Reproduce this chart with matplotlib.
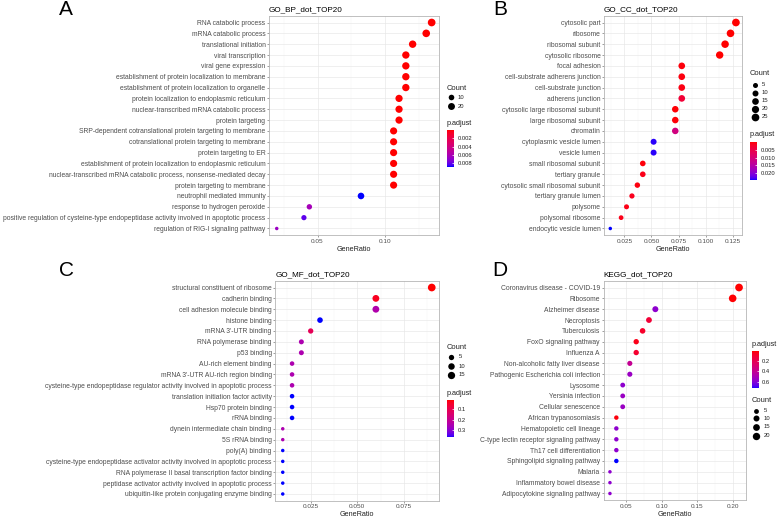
import numpy as np
import matplotlib
matplotlib.use('Agg')
import matplotlib.pyplot as plt
from matplotlib.colors import ListedColormap, Normalize
from matplotlib.cm import ScalarMappable
from matplotlib.ticker import MultipleLocator

plt.rcParams['font.family'] = ['Liberation Sans', 'DejaVu Sans']

W, H = 777, 518

# ---- GO BP ----
bp_terms = ["RNA catabolic process", "mRNA catabolic process", "translational initiation",
            "viral transcription", "viral gene expression",
            "establishment of protein localization to membrane",
            "establishment of protein localization to organelle",
            "protein localization to endoplasmic reticulum",
            "nuclear-transcribed mRNA catabolic process", "protein targeting",
            "SRP-dependent cotranslational protein targeting to membrane",
            "cotranslational protein targeting to membrane", "protein targeting to ER",
            "establishment of protein localization to endoplasmic reticulum",
            "nuclear-transcribed mRNA catabolic process, nonsense-mediated decay",
            "protein targeting to membrane", "neutrophil mediated immunity",
            "response to hydrogen peroxide",
            "positive regulation of cysteine-type endopeptidase activity involved in apoptotic process",
            "regulation of RIG-I signaling pathway"]
bp_ratio = [0.134, 0.130, 0.120, 0.115, 0.115, 0.115, 0.115, 0.110, 0.110, 0.110,
            0.106, 0.106, 0.106, 0.106, 0.106, 0.106, 0.082, 0.044, 0.040, 0.020]
bp_count = [28, 27, 25, 24, 24, 24, 24, 23, 23, 23, 22, 22, 22, 22, 22, 22, 17, 9, 8, 4]
bp_padj = [1e-7, 2e-7, 5e-7, 6e-7, 8e-7, 1e-6, 1e-6, 2e-6, 3e-6, 4e-6,
           5e-6, 6e-6, 7e-6, 8e-6, 1e-5, 1.2e-5, 0.0088, 0.0062, 0.0081, 0.0066]

# ---- GO CC ----
cc_terms = ["cytosolic part", "ribosome", "ribosomal subunit", "cytosolic ribosome",
            "focal adhesion", "cell-substrate adherens junction", "cell-substrate junction",
            "adherens junction", "cytosolic large ribosomal subunit", "large ribosomal subunit",
            "chromatin", "cytoplasmic vesicle lumen", "vesicle lumen", "small ribosomal subunit",
            "tertiary granule", "cytosolic small ribosomal subunit", "tertiary granule lumen",
            "polysome", "polysomal ribosome", "endocytic vesicle lumen"]
cc_ratio = [0.128, 0.123, 0.118, 0.113, 0.078, 0.078, 0.078, 0.078, 0.072, 0.072,
            0.072, 0.052, 0.052, 0.042, 0.042, 0.037, 0.032, 0.027, 0.022, 0.012]
cc_count = [25, 24, 23, 22, 15, 15, 15, 15, 14, 14, 14, 10, 10, 8, 8, 7, 6, 5, 4, 2]
cc_padj = [1e-6, 1e-6, 2e-6, 3e-6, 0.0005, 0.0006, 0.0008, 0.0035, 0.0002, 0.0003,
           0.0110, 0.0238, 0.0238, 0.0004, 0.0012, 0.0006, 0.0015, 0.0010, 0.0012, 0.0242]

# ---- GO MF ----
mf_terms = ["structural constituent of ribosome", "cadherin binding", "cell adhesion molecule binding",
            "histone binding", "mRNA 3'-UTR binding", "RNA polymerase binding", "p53 binding",
            "AU-rich element binding", "mRNA 3'-UTR AU-rich region binding",
            "cysteine-type endopeptidase regulator activity involved in apoptotic process",
            "translation initiation factor activity", "Hsp70 protein binding", "rRNA binding",
            "dynein intermediate chain binding", "5S rRNA binding", "poly(A) binding",
            "cysteine-type endopeptidase activator activity involved in apoptotic process",
            "RNA polymerase II basal transcription factor binding",
            "peptidase activator activity involved in apoptotic process",
            "ubiquitin-like protein conjugating enzyme binding"]
mf_ratio = [0.090, 0.060, 0.060, 0.030, 0.025, 0.020, 0.020, 0.015, 0.015, 0.015,
            0.015, 0.015, 0.015, 0.010, 0.010, 0.010, 0.010, 0.010, 0.010, 0.010]
mf_count = [18, 12, 12, 6, 5, 4, 4, 3, 3, 3, 3, 3, 3, 2, 2, 2, 2, 2, 2, 2]
mf_padj = [0.0097, 0.035, 0.245, 0.371, 0.11, 0.25, 0.25, 0.25, 0.25, 0.25,
           0.371, 0.371, 0.371, 0.25, 0.25, 0.371, 0.371, 0.371, 0.371, 0.371]

# ---- KEGG ----
kegg_terms = ["Coronavirus disease - COVID-19", "Ribosome", "Alzheimer disease", "Necroptosis",
              "Tuberculosis", "FoxO signaling pathway", "Influenza A",
              "Non-alcoholic fatty liver disease", "Pathogenic Escherichia coli infection",
              "Lysosome", "Yersinia infection", "Cellular senescence", "African trypanosomiasis",
              "Hematopoietic cell lineage", "C-type lectin receptor signaling pathway",
              "Th17 cell differentiation", "Sphingolipid signaling pathway", "Malaria",
              "Inflammatory bowel disease", "Adipocytokine signaling pathway"]
kegg_ratio = [0.209, 0.200, 0.091, 0.082, 0.073, 0.064, 0.064, 0.055, 0.055, 0.045,
              0.045, 0.045, 0.036, 0.036, 0.036, 0.036, 0.036, 0.027, 0.027, 0.027]
kegg_count = [23, 22, 10, 9, 8, 7, 7, 6, 6, 5, 5, 5, 4, 4, 4, 4, 4, 3, 3, 3]
kegg_padj = [0.015, 0.02, 0.58, 0.12, 0.085, 0.05, 0.1, 0.4, 0.55, 0.58,
             0.55, 0.55, 0.03, 0.58, 0.58, 0.58, 0.726, 0.58, 0.58, 0.58]


# red -> blue gradient interpolated in Lab (like ggplot)
def lab_to_rgb(L, a, b):
    fy = (L + 16) / 116
    fx = fy + a / 500
    fz = fy - b / 200
    finv = lambda t: np.where(t > 6 / 29, t ** 3, 3 * (6 / 29) ** 2 * (t - 4 / 29))
    X = 0.95047 * finv(fx)
    Y = finv(fy)
    Z = 1.08883 * finv(fz)
    r = 3.2406 * X - 1.5372 * Y - 0.4986 * Z
    g = -0.9689 * X + 1.8758 * Y + 0.0415 * Z
    bb = 0.0557 * X - 0.2040 * Y + 1.0570 * Z
    rgb = np.clip(np.stack([r, g, bb], -1), 0, 1)
    return np.where(rgb > 0.0031308, 1.055 * rgb ** (1 / 2.4) - 0.055, 12.92 * rgb)


t = np.linspace(0, 1, 256)
red_lab = np.array([53.24, 80.09, 67.20])
blue_lab = np.array([32.30, 79.19, -107.86])
lab = red_lab[None, :] * (1 - t[:, None]) + blue_lab[None, :] * t[:, None]
cmap = ListedColormap(np.clip(lab_to_rgb(lab[:, 0], lab[:, 1], lab[:, 2]), 0, 1))

fig = plt.figure(figsize=(W / 100, H / 100), dpi=100)
overlay = fig.add_axes([0, 0, 1, 1], zorder=10)
overlay.set_xlim(0, W)
overlay.set_ylim(H, 0)
overlay.axis('off')


def fx(x):
    return x / W


def fy(y):
    return 1 - y / H


def dot_size(c, cmin, cmax):
    frac = (c - cmin) / (cmax - cmin)
    d = 3.5 + (7.7 - 3.5) * np.sqrt(frac)
    return (d * 0.72) ** 2


def panel(box, title, terms, ratio, count, padj, xticks, xfmt):
    l, top, r, b = box
    ax = fig.add_axes([fx(l), fy(b), fx(r) - fx(l), fy(top) - fy(b)])
    n = len(terms)
    ypos = np.arange(n, 0, -1)
    span = max(ratio) - min(ratio)
    ax.set_xlim(min(ratio) - 0.05 * span, max(ratio) + 0.05 * span)
    ax.set_ylim(0.4, n + 0.6)
    norm = Normalize(min(padj), max(padj))
    sizes = [dot_size(c, min(count), max(count)) for c in count]
    ax.scatter(ratio, ypos, s=sizes, c=padj, cmap=cmap, norm=norm, linewidths=0, zorder=3)
    ax.set_yticks(ypos)
    ax.set_yticklabels(terms, fontsize=4.9, color='#4D4D4D')
    ax.set_xticks(xticks)
    ax.set_xticklabels([xfmt % v for v in xticks], fontsize=4.6, color='#4D4D4D')
    step = xticks[1] - xticks[0]
    ax.xaxis.set_minor_locator(MultipleLocator(step / 2))
    ax.tick_params(axis='both', which='major', length=1.6, width=0.4, color='#555555', pad=1)
    ax.tick_params(axis='x', which='minor', length=0)
    ax.grid(True, which='major', color='#E6E6E6', lw=0.45, zorder=0)
    ax.grid(True, which='minor', axis='x', color='#F2F2F2', lw=0.3, zorder=0)
    ax.set_axisbelow(True)
    for s in ax.spines.values():
        s.set_color('#B5B5B5')
        s.set_linewidth(0.6)
    ax.set_xlabel('GeneRatio', fontsize=5.2, color='#222222', labelpad=1.5)
    fig.text(fx(l), fy(top - 6), title, fontsize=5.9, va='center', ha='left')
    return norm


def count_legend(x, y_title, dot_x, ys, lab_x, breaks, count):
    fig.text(fx(x), fy(y_title), 'Count', fontsize=5.4, va='center', color='#222222')
    for yy, bk in zip(ys, breaks):
        overlay.scatter([dot_x], [yy], s=dot_size(bk, min(count), max(count)),
                        color='black', linewidths=0)
        fig.text(fx(lab_x), fy(yy), str(bk), fontsize=4.2, va='center', color='#222222')


def padj_legend(x, y_title, bar_top, bar_bot, norm, ticks, labels):
    fig.text(fx(x), fy(y_title), 'p.adjust', fontsize=5.2, va='center', color='#222222')
    cax = fig.add_axes([fx(x), fy(bar_bot), 7.3 / W, (bar_bot - bar_top) / H])
    cb = fig.colorbar(ScalarMappable(norm=norm, cmap=cmap), cax=cax, ticks=ticks)
    cb.ax.invert_yaxis()
    cb.outline.set_visible(False)
    cb.ax.set_yticklabels(labels, fontsize=4.2, color='#222222')
    cb.ax.tick_params(length=1.5, width=0.5, color='white', direction='in', pad=2.2)


# A
norm_a = panel((269, 16, 439.4, 235), 'GO_BP_dot_TOP20', bp_terms, bp_ratio, bp_count, bp_padj,
               [0.05, 0.10], '%.2f')
count_legend(447, 88, 451, [97.3, 106], 458, [10, 20], bp_count)
padj_legend(447, 123.3, 130, 166.7, norm_a, [0.002, 0.004, 0.006, 0.008],
            ['0.002', '0.004', '0.006', '0.008'])

# B
norm_b = panel((604, 16, 742.2, 235), 'GO_CC_dot_TOP20', cc_terms, cc_ratio, cc_count, cc_padj,
               [0.025, 0.050, 0.075, 0.100, 0.125], '%.3f')
count_legend(750, 74, 755, [85, 92.5, 100.5, 108.5, 117], 762, [5, 10, 15, 20, 25], cc_count)
padj_legend(750, 135, 141.7, 180, norm_b, [0.005, 0.010, 0.015, 0.020],
            ['0.005', '0.010', '0.015', '0.020'])

# C
norm_c = panel((275.3, 281, 439.2, 500.5), 'GO_MF_dot_TOP20', mf_terms, mf_ratio, mf_count, mf_padj,
               [0.025, 0.050, 0.075], '%.3f')
count_legend(447, 347.7, 451, [356.7, 366, 375], 459, [5, 10, 15], mf_count)
padj_legend(447, 393.3, 400, 437.3, norm_c, [0.1, 0.2, 0.3], ['0.1', '0.2', '0.3'])

# D
norm_d = panel((603.5, 281, 745.5, 500), 'KEGG_dot_TOP20', kegg_terms, kegg_ratio, kegg_count,
               kegg_padj, [0.05, 0.10, 0.15, 0.20], '%.2f')
padj_legend(751.5, 345, 351, 388.3, norm_d, [0.2, 0.4, 0.6], ['0.2', '0.4', '0.6'])
count_legend(751.5, 401, 756.2, [411, 418.3, 426.7, 435.7], 764, [5, 10, 15, 20], kegg_count)

# panel letters
for letter, x, y in [('A', 59, 15), ('B', 493, 15), ('C', 59, 276), ('D', 492, 276)]:
    fig.text(fx(x), fy(y), letter, fontsize=15, va='baseline', ha='left')

fig.savefig('out.png', dpi=100)
